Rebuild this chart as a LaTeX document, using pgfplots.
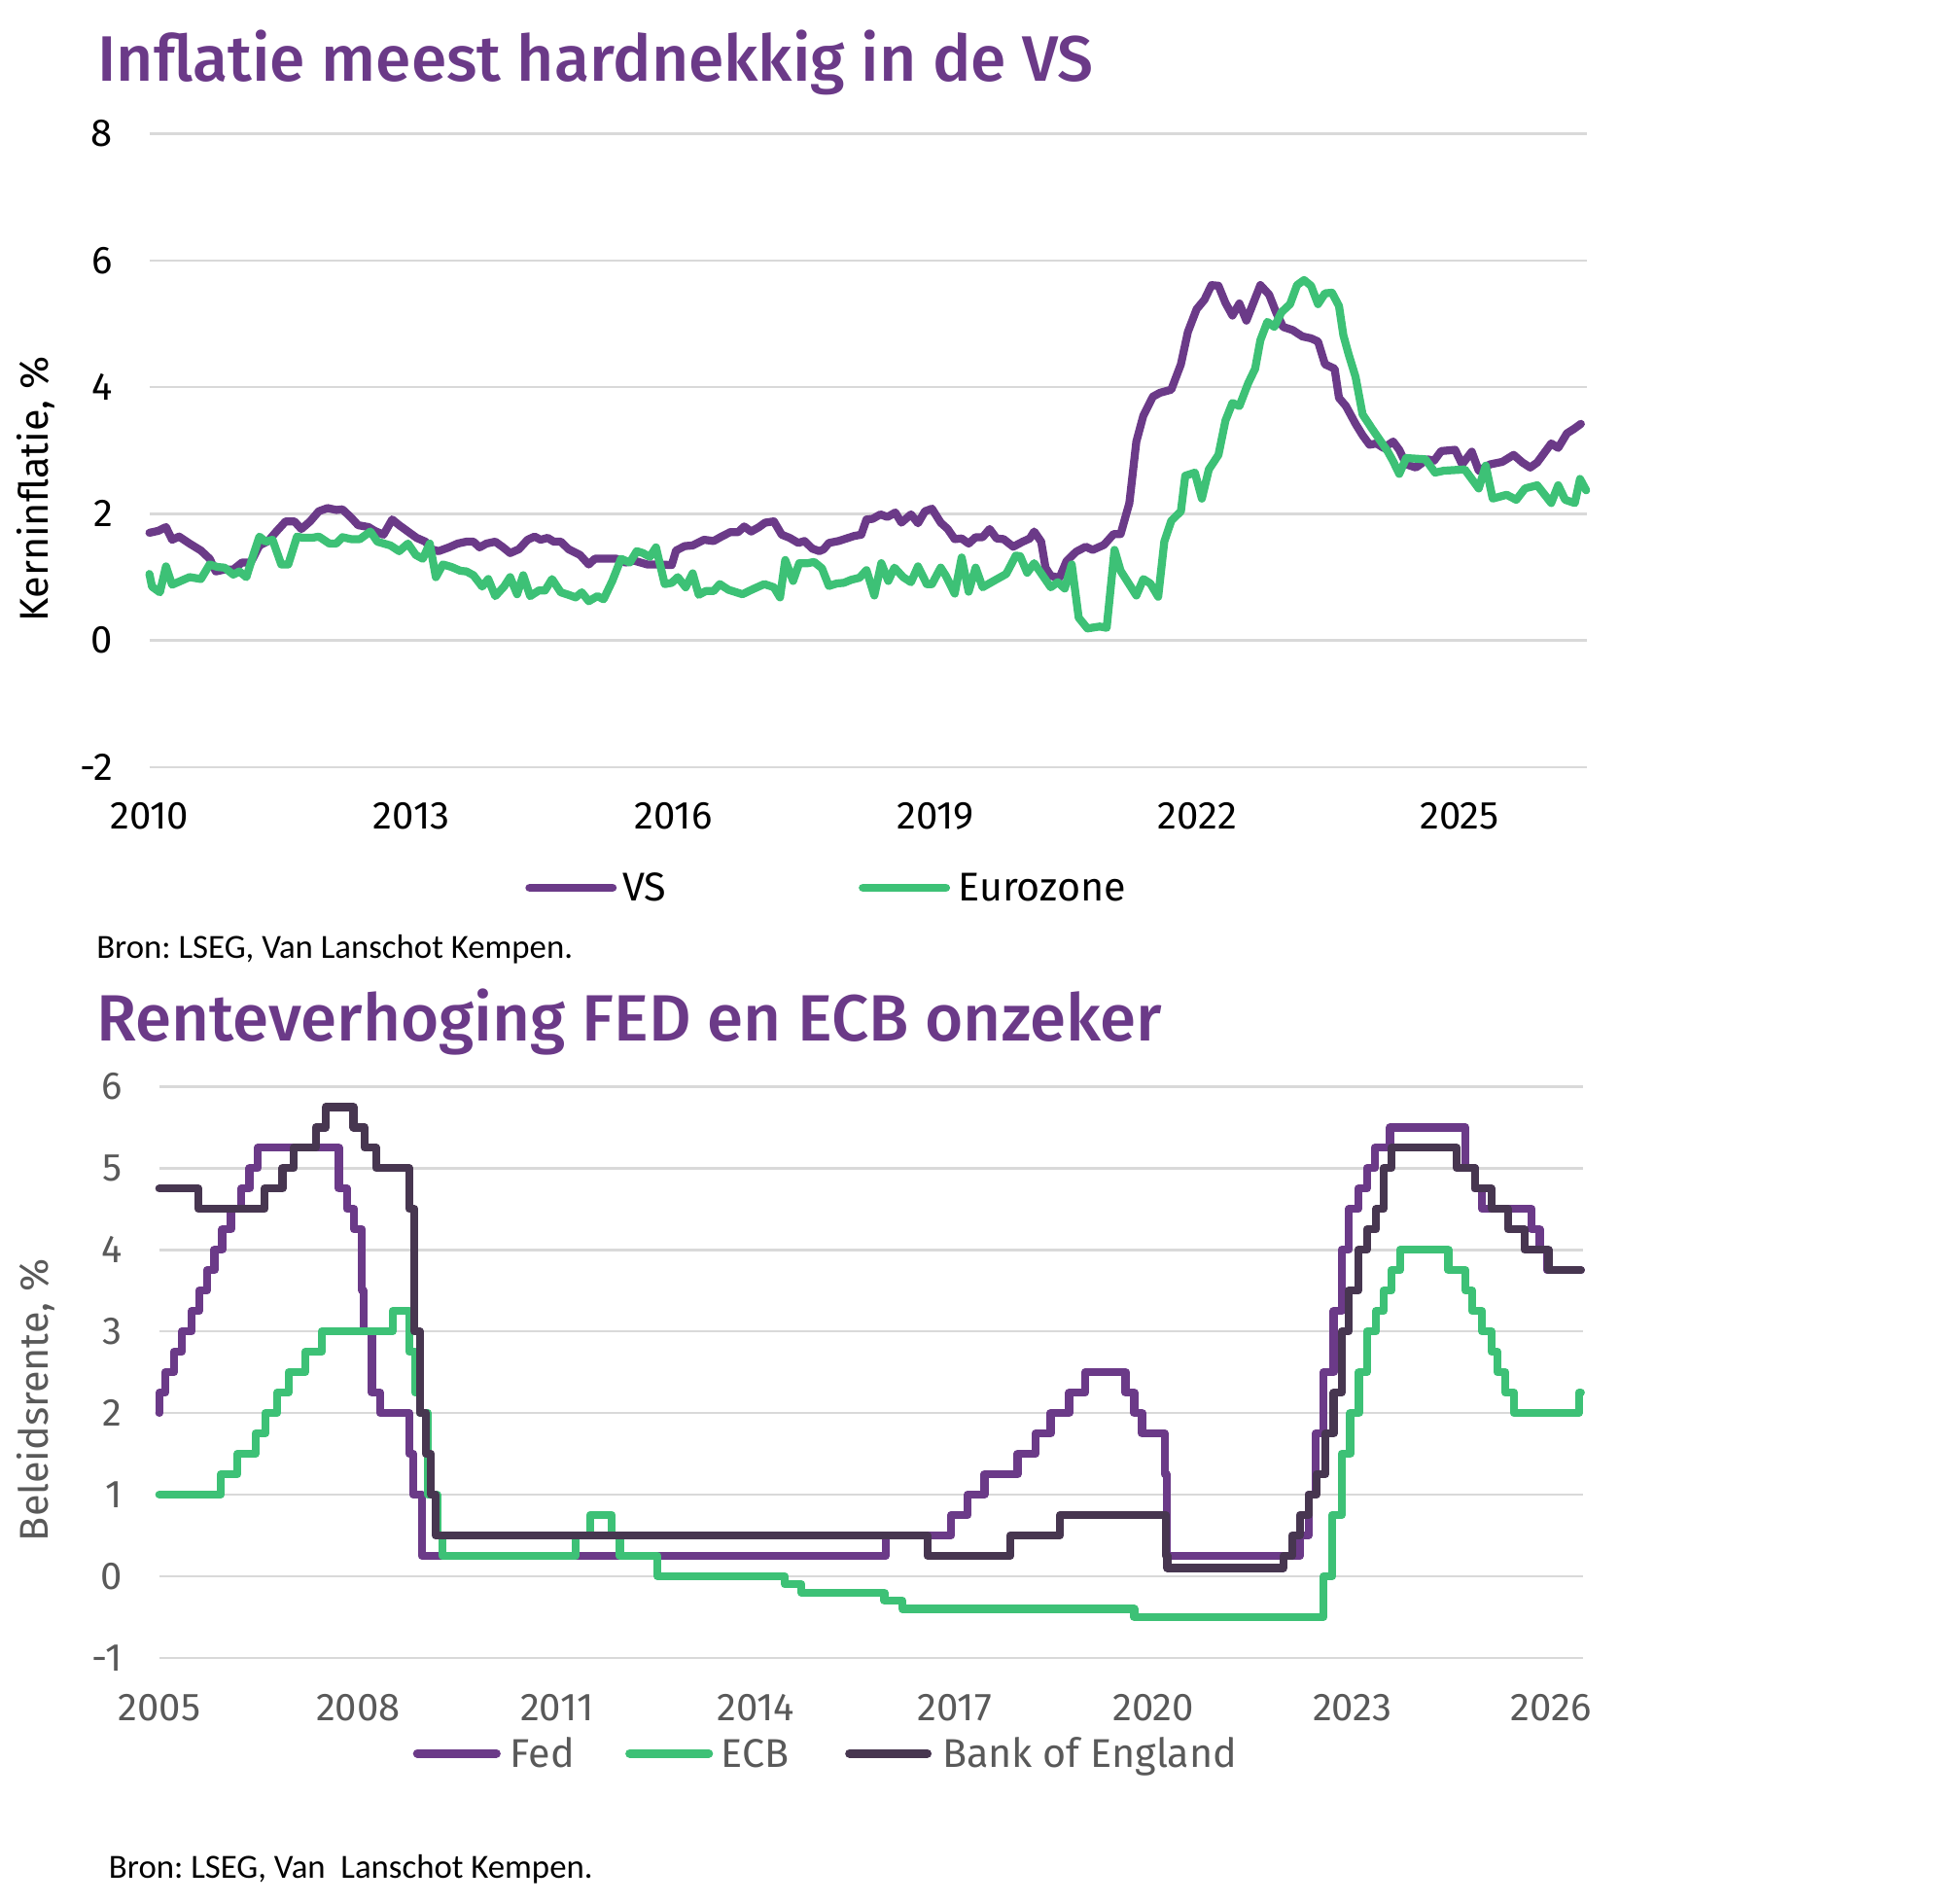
\documentclass[border=0pt]{standalone}
\usepackage{pgfplots}
\pgfplotsset{compat=1.18}
\usepackage{fontspec}
\setmainfont{Fira Sans}
\newfontfamily\titlefont{Fira Sans Medium}
\newfontfamily\bronfont{Carlito}
\definecolor{vkpurple}{HTML}{6B3A88}
\definecolor{vkgreen}{HTML}{3DC176}
\definecolor{vkdark}{HTML}{473650}
\definecolor{gridgray}{HTML}{D9D9D9}
\definecolor{labgray}{HTML}{595959}
\frenchspacing
\begin{document}
\begin{tikzpicture}[x=1pt,y=1pt]
\path[use as bounding box] (0,0) rectangle (1568,-1542);
% ---------- titles ----------
\node[anchor=base west, inner sep=0pt, text=vkpurple, font=\titlefont\fontsize{52}{58}\selectfont] at (79,-66) {Inflatie meest hardnekkig in de VS};
\node[anchor=base west, inner sep=0pt, text=vkpurple, font=\titlefont\fontsize{53}{58}\selectfont] at (78,-843) {Renteverhoging FED en ECB onzeker};
% ---------- axis labels ----------
\node[anchor=base, rotate=90, inner sep=0pt, font=\fontsize{32.5}{38}\selectfont] at (39,-396) {Kerninflatie, \%};
\node[anchor=base, rotate=90, inner sep=0pt, text=labgray, font=\fontsize{32.5}{38}\selectfont] at (39,-1134) {Beleidsrente, \%};
% ---------- top chart ----------
\begin{axis}[at={(121pt,-621.3pt)}, anchor=south west, scale only axis,
  width=1164pt, height=513pt,
  xmin=2010, xmax=2026.455, ymin=-2, ymax=8, clip=false,
  axis line style={draw=none}, tick style={draw=none},
  ymajorgrids, grid style={gridgray, line width=2pt},
  xtick={2010,2013,2016,2019,2022,2025},
  xticklabels={2010,2013,2016,2019,2022,2025},
  ytick={-2,0,2,4,6,8}, yticklabels={-2,0,2,4,6,8},
  xticklabel style={anchor=base, inner sep=0pt, yshift=-50pt, font=\fontsize{31.5}{37}\selectfont},
  yticklabel style={anchor=east, inner sep=0pt, xshift=-29.5pt, font=\fontsize{31.5}{37}\selectfont},
  every axis plot/.append style={line width=6.5pt, line join=round, line cap=round},
]
\addplot[vkpurple] coordinates {
(2010.00,1.70)(2010.10,1.73)(2010.19,1.79)(2010.26,1.59)(2010.34,1.64)(2010.46,1.53)(2010.59,1.42)(2010.69,1.29)(2010.76,1.09)(2010.86,1.12)
(2010.96,1.12)(2011.06,1.23)(2011.16,1.23)(2011.26,1.50)(2011.36,1.57)(2011.46,1.73)(2011.56,1.88)(2011.66,1.88)(2011.74,1.76)(2011.84,1.88)
(2011.94,2.04)(2012.04,2.09)(2012.14,2.06)(2012.21,2.07)(2012.31,1.94)(2012.39,1.82)(2012.51,1.79)(2012.58,1.73)(2012.68,1.67)(2012.78,1.91)
(2012.86,1.82)(2012.98,1.70)(2013.06,1.62)(2013.16,1.56)(2013.23,1.44)(2013.31,1.41)(2013.43,1.47)(2013.53,1.53)(2013.63,1.56)(2013.71,1.56)
(2013.78,1.47)(2013.86,1.53)(2013.96,1.56)(2014.05,1.47)(2014.13,1.38)(2014.23,1.44)(2014.33,1.59)(2014.41,1.64)(2014.48,1.59)(2014.56,1.62)
(2014.63,1.56)(2014.71,1.56)(2014.80,1.44)(2014.93,1.35)(2015.03,1.20)(2015.10,1.29)(2015.25,1.29)(2015.35,1.29)(2015.45,1.23)(2015.55,1.26)
(2015.70,1.20)(2015.85,1.20)(2015.98,1.19)(2016.03,1.42)(2016.13,1.49)(2016.22,1.50)(2016.35,1.59)(2016.46,1.57)(2016.55,1.64)(2016.65,1.71)
(2016.74,1.71)(2016.81,1.80)(2016.89,1.72)(2016.98,1.79)(2017.05,1.86)(2017.15,1.88)(2017.24,1.67)(2017.33,1.62)(2017.43,1.54)(2017.50,1.57)
(2017.59,1.45)(2017.67,1.41)(2017.72,1.44)(2017.78,1.54)(2017.89,1.57)(2017.98,1.61)(2018.07,1.65)(2018.15,1.67)(2018.21,1.91)(2018.28,1.92)
(2018.37,1.99)(2018.45,1.95)(2018.54,2.02)(2018.61,1.86)(2018.72,1.99)(2018.80,1.85)(2018.88,2.04)(2018.96,2.08)(2019.06,1.86)(2019.14,1.76)
(2019.22,1.60)(2019.30,1.61)(2019.38,1.53)(2019.46,1.63)(2019.54,1.63)(2019.62,1.76)(2019.70,1.61)(2019.78,1.60)(2019.89,1.48)(2020.00,1.56)
(2020.08,1.61)(2020.13,1.72)(2020.21,1.56)(2020.26,1.15)(2020.32,1.02)(2020.42,0.99)(2020.50,1.25)(2020.61,1.40)(2020.72,1.48)(2020.80,1.43)
(2020.93,1.51)(2021.04,1.68)(2021.12,1.68)(2021.22,2.17)(2021.30,3.14)(2021.38,3.55)(2021.49,3.85)(2021.57,3.91)(2021.70,3.96)(2021.81,4.36)
(2021.89,4.87)(2021.99,5.23)(2022.08,5.38)(2022.16,5.61)(2022.24,5.60)(2022.32,5.33)(2022.40,5.13)(2022.48,5.32)(2022.56,5.05)(2022.64,5.33)
(2022.72,5.61)(2022.82,5.46)(2022.90,5.18)(2022.98,4.95)(2023.09,4.90)(2023.20,4.80)(2023.30,4.77)(2023.38,4.72)(2023.46,4.36)(2023.57,4.29)
(2023.62,3.83)(2023.70,3.70)(2023.81,3.42)(2023.89,3.24)(2023.97,3.09)(2024.05,3.11)(2024.13,3.04)(2024.24,3.14)(2024.31,3.01)(2024.39,2.78)
(2024.50,2.73)(2024.63,2.86)(2024.71,2.84)(2024.79,2.99)(2024.95,3.01)(2025.03,2.78)(2025.14,2.98)(2025.22,2.68)(2025.35,2.78)(2025.49,2.82)
(2025.62,2.93)(2025.72,2.81)(2025.81,2.73)(2025.89,2.81)(2026.05,3.11)(2026.13,3.04)(2026.23,3.27)(2026.31,3.34)(2026.39,3.42)
};
\addplot[vkgreen] coordinates {
(2010.00,1.05)(2010.03,0.85)(2010.12,0.76)(2010.19,1.17)(2010.26,0.88)(2010.36,0.94)(2010.46,1.00)(2010.59,0.97)(2010.69,1.20)(2010.78,1.16)
(2010.86,1.15)(2010.96,1.04)(2011.03,1.09)(2011.11,1.00)(2011.19,1.35)(2011.26,1.64)(2011.33,1.56)(2011.41,1.59)(2011.51,1.20)(2011.59,1.20)
(2011.69,1.64)(2011.76,1.62)(2011.86,1.62)(2011.94,1.64)(2012.06,1.53)(2012.14,1.53)(2012.21,1.63)(2012.31,1.60)(2012.41,1.60)(2012.53,1.72)
(2012.61,1.56)(2012.76,1.50)(2012.86,1.41)(2012.96,1.53)(2013.05,1.35)(2013.13,1.29)(2013.21,1.53)(2013.28,1.00)(2013.36,1.20)(2013.46,1.16)
(2013.56,1.10)(2013.63,1.09)(2013.71,1.03)(2013.81,0.85)(2013.88,0.97)(2013.96,0.70)(2014.06,0.85)(2014.13,1.00)(2014.21,0.73)(2014.28,1.03)
(2014.36,0.70)(2014.46,0.79)(2014.53,0.79)(2014.61,0.97)(2014.71,0.76)(2014.80,0.72)(2014.88,0.68)(2014.95,0.76)(2015.03,0.62)(2015.13,0.70)
(2015.20,0.65)(2015.30,0.94)(2015.40,1.29)(2015.50,1.23)(2015.58,1.41)(2015.65,1.38)(2015.73,1.32)(2015.80,1.47)(2015.90,0.89)(2015.98,0.91)
(2016.05,1.00)(2016.14,0.84)(2016.22,1.06)(2016.29,0.72)(2016.37,0.78)(2016.46,0.78)(2016.53,0.89)(2016.63,0.80)(2016.79,0.73)(2016.91,0.81)
(2017.04,0.89)(2017.15,0.84)(2017.22,0.68)(2017.28,1.27)(2017.37,0.94)(2017.44,1.22)(2017.54,1.22)(2017.61,1.24)(2017.70,1.14)(2017.78,0.86)
(2017.87,0.90)(2017.95,0.91)(2018.04,0.96)(2018.13,0.99)(2018.21,1.11)(2018.30,0.71)(2018.38,1.22)(2018.46,0.94)(2018.53,1.15)(2018.63,1.00)
(2018.72,0.92)(2018.80,1.17)(2018.90,0.89)(2018.96,0.89)(2019.06,1.15)(2019.12,1.02)(2019.22,0.74)(2019.30,1.31)(2019.38,0.77)(2019.46,1.15)
(2019.54,0.84)(2019.68,0.95)(2019.81,1.05)(2019.92,1.34)(2019.97,1.33)(2020.05,1.07)(2020.13,1.22)(2020.32,0.84)(2020.40,0.92)(2020.48,0.82)
(2020.56,1.20)(2020.64,0.36)(2020.74,0.19)(2020.88,0.22)(2020.96,0.20)(2021.05,1.43)(2021.12,1.10)(2021.30,0.71)(2021.38,0.97)(2021.46,0.90)
(2021.55,0.69)(2021.62,1.56)(2021.70,1.89)(2021.81,2.04)(2021.86,2.60)(2021.97,2.65)(2022.05,2.24)(2022.13,2.70)(2022.24,2.93)(2022.32,3.47)
(2022.40,3.75)(2022.48,3.70)(2022.58,4.06)(2022.66,4.29)(2022.72,4.74)(2022.80,5.03)(2022.88,4.95)(2022.96,5.18)(2023.06,5.31)(2023.14,5.61)
(2023.22,5.69)(2023.30,5.60)(2023.38,5.31)(2023.46,5.48)(2023.54,5.49)(2023.62,5.28)(2023.67,4.82)(2023.73,4.52)(2023.81,4.16)(2023.89,3.57)
(2024.00,3.34)(2024.10,3.14)(2024.18,2.98)(2024.24,2.83)(2024.31,2.63)(2024.39,2.88)(2024.61,2.86)(2024.72,2.65)(2024.82,2.68)(2025.06,2.70)
(2025.14,2.55)(2025.22,2.40)(2025.30,2.76)(2025.38,2.24)(2025.54,2.30)(2025.65,2.22)(2025.75,2.40)(2025.89,2.45)(2026.05,2.17)(2026.13,2.45)
(2026.21,2.22)(2026.32,2.17)(2026.38,2.55)(2026.45,2.37)
};
\end{axis}
% ---------- top legend ----------
\draw[vkpurple, line width=7pt, line cap=round] (429,-719) -- (496,-719);
\node[anchor=base west, inner sep=0pt, font=\fontsize{32.5}{38}\selectfont] at (504,-730) {VS};
\draw[vkgreen, line width=7pt, line cap=round] (699,-719) -- (766,-719);
\node[anchor=base west, inner sep=0pt, font=\fontsize{32.5}{38}\selectfont] at (776,-730) {Eurozone};
\node[anchor=base west, inner sep=0pt, font=\bronfont\fontsize{27.4}{31}\selectfont] at (78,-776) {Bron: LSEG, Van Lanschot Kempen.};
% ---------- bottom chart ----------
\begin{axis}[at={(129pt,-1342.6pt)}, anchor=south west, scale only axis,
  width=1153pt, height=462.6pt,
  xmin=2005, xmax=2026.48, ymin=-1, ymax=6, clip=false,
  axis line style={draw=none}, tick style={draw=none},
  ymajorgrids, grid style={gridgray, line width=2pt},
  xtick={2005,2008,2011,2014,2017,2020,2023,2026},
  xticklabels={2005,2008,2011,2014,2017,2020,2023,2026},
  ytick={-1,0,1,2,3,4,5,6}, yticklabels={-1,0,1,2,3,4,5,6},
  xticklabel style={anchor=base, inner sep=0pt, yshift=-51pt, text=labgray, font=\fontsize{31.5}{37}\selectfont},
  yticklabel style={anchor=east, inner sep=0pt, xshift=-30pt, text=labgray, font=\fontsize{31.5}{37}\selectfont},
  every axis plot/.append style={const plot, line width=6.5pt, line join=round, line cap=round},
]
\addplot[vkpurple] coordinates {
(2005.00,2.00)(2005.005,2.25)(2005.09,2.50)(2005.22,2.75)(2005.34,3.00)(2005.49,3.25)(2005.60,3.50)(2005.72,3.75)(2005.83,4.00)(2005.95,4.25)
(2006.08,4.50)(2006.24,4.75)(2006.36,5.00)(2006.49,5.25)(2007.71,4.75)(2007.83,4.50)(2007.94,4.25)(2008.06,3.50)(2008.08,3.00)(2008.21,2.25)
(2008.33,2.00)(2008.77,1.50)(2008.83,1.00)(2008.96,0.25)(2015.96,0.50)(2016.95,0.75)(2017.20,1.00)(2017.45,1.25)(2017.95,1.50)(2018.22,1.75)
(2018.45,2.00)(2018.73,2.25)(2018.97,2.50)(2019.58,2.25)(2019.71,2.00)(2019.83,1.75)(2020.17,1.25)(2020.20,0.25)(2022.21,0.50)(2022.34,1.00)
(2022.45,1.75)(2022.57,2.50)(2022.72,3.25)(2022.84,4.00)(2022.95,4.50)(2023.09,4.75)(2023.22,5.00)(2023.34,5.25)(2023.57,5.50)(2024.71,5.00)
(2024.85,4.75)(2024.96,4.50)(2025.71,4.25)(2025.83,4.00)(2025.94,3.75)(2026.45,3.75)
};
\addplot[vkgreen] coordinates {
(2005.00,1.00)(2005.93,1.25)(2006.18,1.50)(2006.45,1.75)(2006.60,2.00)(2006.78,2.25)(2006.95,2.50)(2007.20,2.75)(2007.45,3.00)(2008.52,3.25)
(2008.77,2.75)(2008.86,2.25)(2008.94,2.00)(2009.05,1.00)(2009.19,0.50)(2009.27,0.25)(2011.28,0.50)(2011.50,0.75)(2011.83,0.50)(2011.95,0.25)
(2012.52,0.00)(2014.44,-0.10)(2014.69,-0.20)(2015.94,-0.30)(2016.21,-0.40)(2019.71,-0.50)(2022.57,0.00)(2022.70,0.75)(2022.84,1.50)(2022.97,2.00)
(2023.10,2.50)(2023.22,3.00)(2023.36,3.25)(2023.47,3.50)(2023.59,3.75)(2023.72,4.00)(2024.45,3.75)(2024.71,3.50)(2024.81,3.25)(2024.96,3.00)
(2025.10,2.75)(2025.19,2.50)(2025.31,2.25)(2025.44,2.00)(2026.42,2.25)(2026.45,2.25)
};
\addplot[vkdark] coordinates {
(2005.00,4.75)(2005.59,4.50)(2006.59,4.75)(2006.86,5.00)(2007.03,5.25)(2007.36,5.50)(2007.51,5.75)(2007.93,5.50)(2008.10,5.25)(2008.27,5.00)
(2008.77,4.50)(2008.85,3.00)(2008.93,2.00)(2009.02,1.50)(2009.10,1.00)(2009.17,0.50)(2016.59,0.25)(2017.84,0.50)(2018.59,0.75)(2020.19,0.25)
(2020.21,0.10)(2021.96,0.25)(2022.09,0.50)(2022.21,0.75)(2022.34,1.00)(2022.46,1.25)(2022.59,1.75)(2022.72,2.25)(2022.84,3.00)(2022.95,3.50)
(2023.09,4.00)(2023.22,4.25)(2023.36,4.50)(2023.47,5.00)(2023.59,5.25)(2024.58,5.00)(2024.85,4.75)(2025.10,4.50)(2025.35,4.25)(2025.60,4.00)
(2025.96,3.75)(2026.45,3.75)
};
\end{axis}
% ---------- bottom legend ----------
\draw[vkpurple, line width=7pt, line cap=round] (338,-1420) -- (402,-1420);
\node[anchor=base west, inner sep=0pt, text=labgray, font=\fontsize{32.5}{38}\selectfont] at (413,-1431) {Fed};
\draw[vkgreen, line width=7pt, line cap=round] (510,-1420) -- (574,-1420);
\node[anchor=base west, inner sep=0pt, text=labgray, font=\fontsize{32.5}{38}\selectfont] at (584,-1431) {ECB};
\draw[vkdark, line width=7pt, line cap=round] (688,-1420) -- (751,-1420);
\node[anchor=base west, inner sep=0pt, text=labgray, font=\fontsize{32.5}{38}\selectfont] at (763,-1431) {Bank of England};
\node[anchor=base west, inner sep=0pt, font=\bronfont\fontsize{27.4}{31}\selectfont] at (88,-1521) {Bron: LSEG, Van\ \ Lanschot Kempen.};
\end{tikzpicture}
\end{document}
